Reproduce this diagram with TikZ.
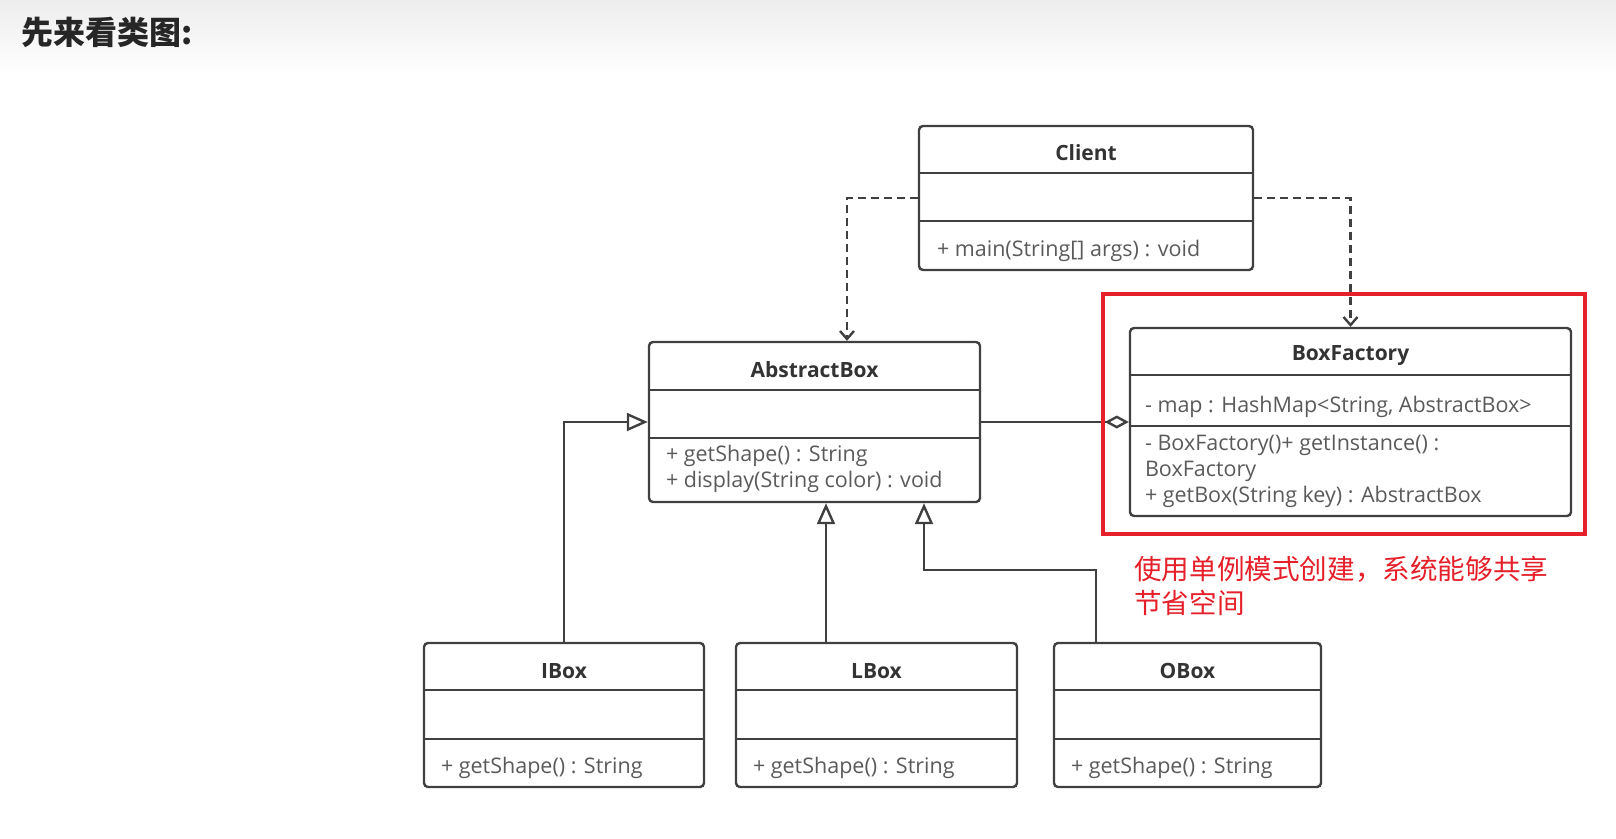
\documentclass[tikz,border=0pt]{standalone}
\usepackage{fontspec}
\setmainfont{Open Sans}
\newfontfamily\cjk{Noto Sans CJK SC}
\usetikzlibrary{arrows.meta}

\definecolor{linegray}{HTML}{404040}
\definecolor{textgray}{HTML}{5A5A5A}
\definecolor{notered}{HTML}{E5202A}

\begin{document}
\begin{tikzpicture}[x=1pt, y=-1pt,
    classbox/.style={draw=linegray, line width=2.4pt, rounded corners=4pt, inner sep=0pt},
    classname/.style={font=\fontsize{21}{24}\selectfont\bfseries, text=black!80},
    member/.style={font=\fontsize{21.5}{26}\selectfont, text=textgray, anchor=west,
        inner sep=0pt, text height=15.5pt, text depth=5pt},
    sep/.style={draw=linegray, line width=2.4pt},
    dep/.style={draw=linegray, line width=2.4pt, dash pattern=on 8pt off 5pt,
        -{Straight Barb[length=8pt, width=14pt]}},
    inherit/.style={draw=linegray, line width=2.4pt,
        -{Triangle[open, length=21pt, width=18pt, fill=white]}},
    aggr/.style={draw=linegray, line width=2.4pt,
        -{Diamond[open, length=24pt, width=13pt, fill=white]}}]

    \useasboundingbox (0,0) rectangle (1616,838);
    \shade[top color=black!7, bottom color=white] (0,0) rectangle (1616,75);

    % Titulo
    \node[anchor=west, font=\cjk\bfseries\fontsize{32}{36}\selectfont, text=black!85]
        (title) at (18,32) {先来看类图:};

    % Client
    \node[classbox, minimum width=334pt, minimum height=144pt] (client) at (1086,198) {};
    \draw[sep] (client.west |- 0,173) -- (client.east |- 0,173);
    \draw[sep] (client.west |- 0,221) -- (client.east |- 0,221);
    \node[classname] (clientname) at (client.north |- 0,153) {Client};
    \node[member] (clientop) at ([xshift=19pt]client.west |- 0,251) {+ main(String[] args) : void};

    % AbstractBox
    \node[classbox, minimum width=331pt, minimum height=160pt] (abox) at (814.5,422) {};
    \draw[sep] (abox.west |- 0,390) -- (abox.east |- 0,390);
    \draw[sep] (abox.west |- 0,438) -- (abox.east |- 0,438);
    \node[classname] (aboxname) at (abox.north |- 0,370) {AbstractBox};
    \node[member] (aboxopa) at ([xshift=18pt]abox.west |- 0,456) {+ getShape() : String};
    \node[member] (aboxopb) at ([xshift=18pt]abox.west |- 0,482) {+ display(String color) : void};

    % BoxFactory
    \node[classbox, minimum width=441pt, minimum height=188pt] (bfac) at (1350.5,422) {};
    \draw[sep] (bfac.west |- 0,375) -- (bfac.east |- 0,375);
    \draw[sep] (bfac.west |- 0,426) -- (bfac.east |- 0,426);
    \node[classname] (bfacname) at (bfac.north |- 0,356) {BoxFactory};
    \node[member] (bfacattr) at ([xshift=16pt]bfac.west |- 0,407) {- map : HashMap<String, AbstractBox>};
    \node[member] (bfacopa) at ([xshift=16pt]bfac.west |- 0,445) {- BoxFactory()+ getInstance() :};
    \node[member] (bfacopb) at ([xshift=16pt]bfac.west |- 0,471) {BoxFactory};
    \node[member] (bfacopc) at ([xshift=16pt]bfac.west |- 0,497) {+ getBox(String key) : AbstractBox};

    % Subclases
    \foreach \name/\cx/\w/\title in {ibox/564/280/IBox, lbox/876.5/281/LBox, obox/1187.5/267/OBox} {
        \node[classbox, minimum width=\w pt, minimum height=144pt] (\name) at (\cx,715) {};
        \draw[sep] (\name.west |- 0,690) -- (\name.east |- 0,690);
        \draw[sep] (\name.west |- 0,739) -- (\name.east |- 0,739);
        \node[classname] (\name name) at (\name.north |- 0,671) {\title};
        \node[member] (\name op) at ([xshift=18pt]\name.west |- 0,768) {+ getShape() : String};
    }

    % Dependencias
    \draw[dep] (client.west) -| (abox.north -| 847,0);
    \draw[dep] (client.east) -| (bfac.north);

    % Herencia
    \draw[inherit] (ibox.north) |- (abox.west);
    \draw[inherit] (lbox.north -| 826,0) -- (abox.south -| 826,0);
    \draw[inherit] (obox.north -| 1096,0) -- ++(0,-72) -| (abox.south -| 924,0);

    % Agregacion
    \draw[aggr] (abox.east) -- (bfac.west);

    % Nota en rojo
    \draw[draw=notered, line width=3.5pt] (1103,294) rectangle (1585,534);
    \node[anchor=west, align=left, text=notered, inner sep=0pt,
        font=\cjk\fontsize{27.6}{34}\selectfont] (note) at (1134,586)
        {使用单例模式创建，系统能够共享\\节省空间};
\end{tikzpicture}
\end{document}
